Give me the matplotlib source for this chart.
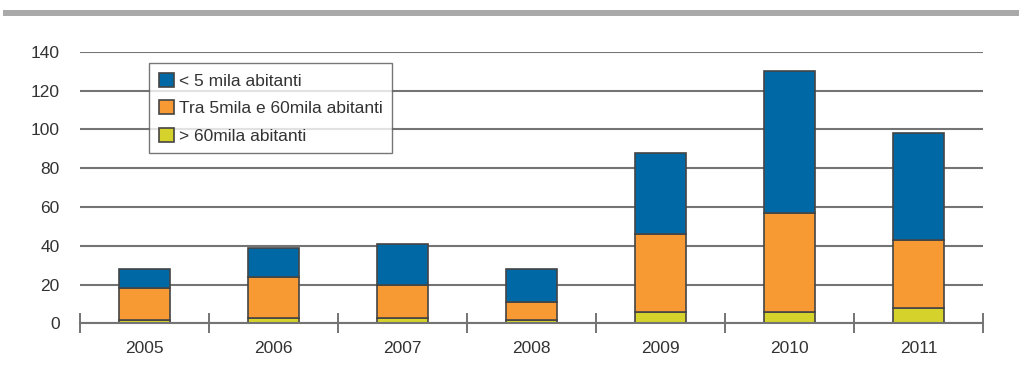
import matplotlib
matplotlib.use("Agg")
import matplotlib.pyplot as plt
from matplotlib.patches import Rectangle
import numpy as np

plt.rcParams['font.family'] = ['Liberation Sans', 'DejaVu Sans']

years = ["2005", "2006", "2007", "2008", "2009", "2010", "2011"]
over_60k = [2, 3, 3, 2, 6, 6, 8]
between_5k_60k = [16, 21, 17, 9, 40, 51, 35]
under_5k = [10, 15, 21, 17, 42, 73, 55]

labels = ["< 5 mila abitanti", "Tra 5mila e 60mila abitanti", "> 60mila abitanti"]
colors = ["#0068A5", "#F79A34", "#D5D22C"]
edge = "#444444"
text_c = "#333333"
grid_c = "#747474"

fig = plt.figure(figsize=(10.19, 3.82), dpi=100)
ax = fig.add_axes([80/1019, 1 - 323.4/382, 903/1019, 271.7/382])

x = np.arange(len(years))
w = 0.395
b1 = np.array(over_60k)
b2 = b1 + np.array(between_5k_60k)

h3 = ax.bar(x, over_60k, w, color=colors[2], edgecolor=edge, linewidth=1.2, zorder=3)
h2 = ax.bar(x, between_5k_60k, w, bottom=b1, color=colors[1], edgecolor=edge, linewidth=1.2, zorder=3)
h1 = ax.bar(x, under_5k, w, bottom=b2, color=colors[0], edgecolor=edge, linewidth=1.2, zorder=3)

ax.set_xlim(-0.5, len(years) - 0.5)
ax.set_ylim(0, 140)
ax.set_yticks(range(0, 141, 20))
ax.yaxis.grid(True, color=grid_c, linewidth=1.5, zorder=0)
ax.set_axisbelow(True)

for s in ["top", "right", "left"]:
    ax.spines[s].set_visible(False)
ax.spines["bottom"].set_color(grid_c)
ax.spines["bottom"].set_linewidth(1.5)
ax.spines["bottom"].set_zorder(4)

ax.set_xticks(x)
ax.set_xticklabels(years)
ax.set_xticks(np.arange(-0.5, len(years)), minor=True)
ax.tick_params(axis="x", which="major", length=0, pad=13, labelsize=12.5, labelcolor=text_c)
ax.tick_params(axis="x", which="minor", direction="inout", length=15, width=1.4, color=grid_c)
ax.tick_params(axis="y", length=0, pad=14.5, labelsize=12.5, labelcolor=text_c)

leg = ax.legend([h1, h2, h3], labels, loc="upper left",
                bbox_to_anchor=(69/903, 260.4/271.7), borderaxespad=0,
                frameon=True, fancybox=False, fontsize=12.5,
                handlelength=0.9, handleheight=0.9, handletextpad=0.25,
                labelspacing=0.65, borderpad=0.55, labelcolor=text_c)
leg.get_frame().set_edgecolor("#555555")
leg.get_frame().set_linewidth(1.0)
leg.set_zorder(5)

fig.add_artist(Rectangle((3/1019, 1 - 16/382), 1, 6/382, transform=fig.transFigure,
                         color="#a9a9a9", linewidth=0))

fig.savefig("out.png", dpi=100)
